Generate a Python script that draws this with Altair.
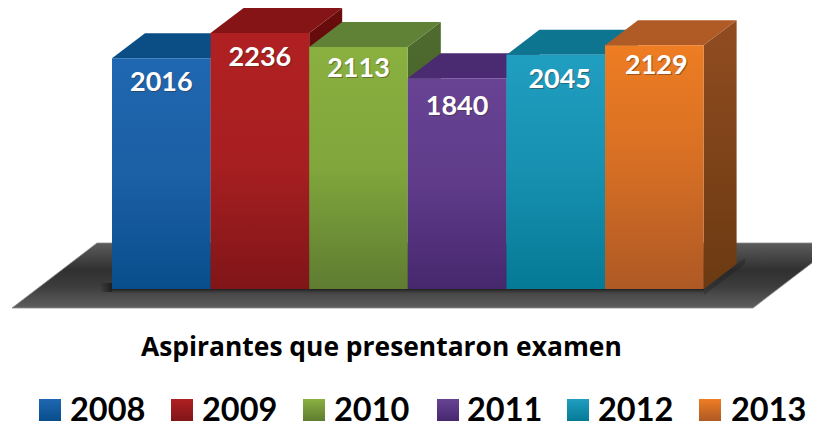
import altair as alt
import pandas as pd

years = ["2008", "2009", "2010", "2011", "2012", "2013"]
values = [2016, 2236, 2113, 1840, 2045, 2129]
title_text = "Aspirantes que presentaron examen"

front_top = ["#1F67B1", "#B02022", "#8AB040", "#684394", "#209EC0", "#EE7D23"]
front_mid = ["#1C60A5", "#A81F21", "#80A63C", "#5F3B8A", "#1790B0", "#D56E24"]
front_bot = ["#084E8C", "#801518", "#5F7C31", "#46286D", "#057A96", "#AE5925"]
top_col = ["#0B4E86", "#851416", "#5F8236", "#4A2B72", "#0E7590", "#B05A25"]
side_top = ["#08406F", "#690C0C", "#4F6B2E", "#3A2160", "#0A6078", "#914C20"]
side_bot = ["#063055", "#500808", "#3F5525", "#2C184A", "#074A5C", "#6B3A12"]

# layout constants: pixels in page coordinates
PW, PH = 804, 430
BAR_L, BAR_W, BASE = 112.0, 98.6, 289.0
PX_PER_UNIT = 0.1145
DEPTH_X, DEPTH_Y = 33.0, 25.0
label_nudge = [(0, 0), (0, 0), (0, -3), (0, 4), (4, 0), (2, -4)]
legend_box_x = [39, 171, 303, 437, 567, 699]
legend_text_x = [70, 202, 334, 467, 598, 731]


def X(p):
    return (p - BAR_L) / BAR_W


def Y(p):
    return (BASE - p) / PX_PER_UNIT


xs = alt.Scale(domain=[X(8), X(8 + PW)], range=[0, PW], nice=False, zero=False)
ys = alt.Scale(domain=[Y(8 + PH), Y(8)], range=[PH, 0], nice=False, zero=False)


def grad(stops, x1=0, y1=0, x2=0, y2=1):
    return alt.LinearGradient(
        gradient="linear", x1=x1, y1=y1, x2=x2, y2=y2,
        stops=[alt.GradientStop(offset=o, color=c) for o, c in stops],
    )


def area(rows, fill, **kw):
    return alt.Chart(pd.DataFrame(rows, columns=["x", "y", "y2"])).mark_area(
        color=fill, orient="vertical", **kw
    ).encode(
        x=alt.X("x:Q", scale=xs, axis=None),
        y=alt.Y("y:Q", scale=ys, axis=None, stack=None),
        y2="y2:Q",
    )


def rect(x0, x1, y0, y1, fill):
    return alt.Chart(pd.DataFrame({"x": [x0], "x2": [x1], "y": [y0], "y2": [y1]})).mark_rect(
        color=fill
    ).encode(
        x=alt.X("x:Q", scale=xs, axis=None),
        x2="x2:Q",
        y=alt.Y("y:Q", scale=ys, axis=None),
        y2="y2:Q",
    )


def text(x, y, s, size, color, align="left", dx=0, dy=0, font="Lato", **kw):
    return alt.Chart(pd.DataFrame({"x": [x], "y": [y], "t": [s]})).mark_text(
        font=font, fontWeight="bold", fontSize=size, color=color, align=align,
        baseline="middle", dx=dx, dy=dy, **kw
    ).encode(
        x=alt.X("x:Q", scale=xs, axis=None),
        y=alt.Y("y:Q", scale=ys, axis=None),
        text="t:N",
    )


layers = []

# floor
fl, fr, ft, fb = 12.0, 753.0, 243.0, 308.0
layers.append(area(
    [[X(fl), Y(fb), Y(fb)], [X(fl + 85), Y(ft), Y(fb)],
     [X(fr), Y(ft), Y(fb)], [X(fr + 85), Y(ft), Y(ft)]],
    grad([(0, "#5C5C5C"), (0.42, "#303030"), (0.66, "#3C3C3C"), (1, "#5E5E5E")]),
    stroke="#8A8A8A", strokeWidth=0.8, clip=True,
))
# contact shadows on the floor
layers.append(rect(X(112), X(704), Y(289), Y(295),
                   grad([(0, "#1E1E1E"), (1, "#4A4A4A00")])))
layers.append(rect(X(100), X(112), Y(283), Y(292),
                   grad([(0, "#1E1E1E00"), (1, "#1E1E1E")], x2=1, y2=0)))
layers.append(area(
    [[X(704), Y(295), Y(289)], [X(745), Y(264), Y(258)]],
    "#1E1E1E", opacity=0.35,
))

dx, dy = DEPTH_X / BAR_W, DEPTH_Y / PX_PER_UNIT
for i, v in enumerate(values):
    x0, x1 = float(i), float(i + 1)
    # side face
    layers.append(area(
        [[x1, v, 0], [x1 + dx, v + dy, dy]],
        grad([(0, side_top[i]), (1, side_bot[i])]),
    ))
    # top face
    layers.append(area(
        [[x0, v, v], [x0 + dx, v + dy, v], [x1, v + dy, v], [x1 + dx, v + dy, v + dy]],
        top_col[i],
    ))
    # front face
    layers.append(rect(x0, x1, v, 0,
                       grad([(0, front_top[i]), (0.5, front_mid[i]), (1, front_bot[i])])))

for i, v in enumerate(values):
    nx, ny = label_nudge[i]
    lx, ly = i + 0.5, v
    layers.append(text(lx, ly, str(v), 27, "#3A2A20", "center", nx + 1, ny + 26, opacity=0.45))
    layers.append(text(lx, ly, str(v), 27, "#FFFFFF", "center", nx, ny + 25))

layers.append(text(X(141), Y(348), title_text, 26.4, "#000000", font="Open Sans"))

for i, y in enumerate(years):
    layers.append(rect(X(legend_box_x[i]), X(legend_box_x[i] + 22), Y(399), Y(421),
                       grad([(0, front_top[i]), (1, front_bot[i])])))
    layers.append(text(X(legend_text_x[i]), Y(411), y, 32.5, "#000000"))

chart = alt.layer(*layers).properties(
    width=PW, height=PH, padding=0,
    autosize=alt.AutoSizeParams(type="none"),
).configure_view(stroke=None)

chart.save("out.html", embed_options={"renderer": "svg", "actions": False})
